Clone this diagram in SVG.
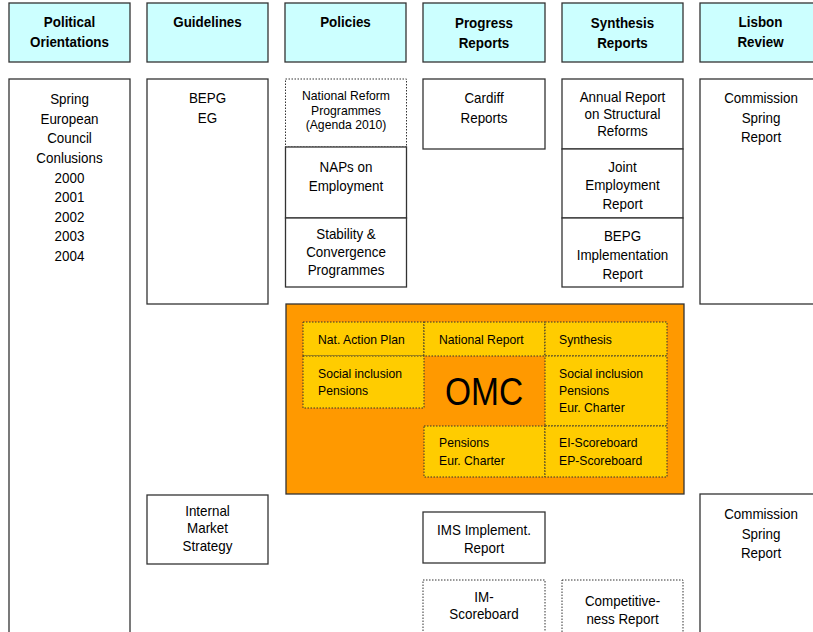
<svg xmlns="http://www.w3.org/2000/svg" width="813" height="632" viewBox="0 0 813 632">
<style>
text{font-family:"Liberation Sans",Arial,sans-serif;fill:#000;}
.h{fill:#CCFFFF;stroke:#333;stroke-width:1.3;}
.b{fill:#fff;stroke:#333;stroke-width:1.3;}
.d{fill:#fff;stroke:#333;stroke-width:1;stroke-dasharray:1.5 1.5;}
.c{fill:#FFCC00;stroke:#333;stroke-width:1;stroke-dasharray:1.5 1.5;}
.ht{font-size:13.4px;font-weight:bold;text-anchor:middle;}
.t{font-size:13.4px;text-anchor:middle;}
.s{font-size:12.2px;text-anchor:middle;}
.o{font-size:12.2px;}
</style>
<rect width="813" height="632" fill="#fff"/>
<g id="headers">
<g id="h-political"><rect class="h" x="9" y="3" width="121" height="59"/><text class="ht" transform="translate(69.5,27) scale(1,1.15)">Political</text><text class="ht" transform="translate(69.5,47) scale(1,1.15)">Orientations</text></g>
<g id="h-guidelines"><rect class="h" x="147" y="3" width="121" height="59"/><text class="ht" transform="translate(207.5,27) scale(1,1.15)">Guidelines</text></g>
<g id="h-policies"><rect class="h" x="285" y="3" width="121" height="59"/><text class="ht" transform="translate(345.5,27) scale(1,1.15)">Policies</text></g>
<g id="h-progress"><rect class="h" x="423" y="3" width="122" height="59"/><text class="ht" transform="translate(484,28) scale(1,1.15)">Progress</text><text class="ht" transform="translate(484,48) scale(1,1.15)">Reports</text></g>
<g id="h-synthesis"><rect class="h" x="562" y="3" width="121" height="59"/><text class="ht" transform="translate(622.5,28) scale(1,1.15)">Synthesis</text><text class="ht" transform="translate(622.5,48) scale(1,1.15)">Reports</text></g>
<g id="h-lisbon"><rect class="h" x="700" y="3" width="121" height="59"/><text class="ht" transform="translate(760.5,27) scale(1,1.15)">Lisbon</text><text class="ht" transform="translate(760.5,47) scale(1,1.15)">Review</text></g>
</g>
<g id="n-spring-council"><rect class="b" x="9" y="79" width="121" height="570"/>
<text class="t" transform="translate(69.5,104) scale(1,1.15)">Spring</text>
<text class="t" transform="translate(69.5,123.5) scale(1,1.15)">European</text>
<text class="t" transform="translate(69.5,143) scale(1,1.15)">Council</text>
<text class="t" transform="translate(69.5,162.5) scale(1,1.15)">Conlusions</text>
<text class="t" transform="translate(69.5,182.5) scale(1,1.15)">2000</text>
<text class="t" transform="translate(69.5,202) scale(1,1.15)">2001</text>
<text class="t" transform="translate(69.5,221.5) scale(1,1.15)">2002</text>
<text class="t" transform="translate(69.5,241) scale(1,1.15)">2003</text>
<text class="t" transform="translate(69.5,260.5) scale(1,1.15)">2004</text></g>
<g id="n-bepg-eg"><rect class="b" x="147" y="79" width="121" height="225"/><text class="t" transform="translate(207.5,103) scale(1,1.15)">BEPG</text><text class="t" transform="translate(207.5,123) scale(1,1.15)">EG</text></g>
<g id="n-nrp"><rect class="d" x="285.5" y="79" width="121" height="68"/><text class="s" x="346" y="100">National Reform</text><text class="s" x="346" y="114.5">Programmes</text><text class="s" x="346" y="128.5">(Agenda 2010)</text></g>
<g id="n-naps"><rect class="b" x="285.5" y="147" width="121" height="71"/><text class="t" transform="translate(346,172) scale(1,1.15)">NAPs on</text><text class="t" transform="translate(346,191) scale(1,1.15)">Employment</text></g>
<g id="n-stability"><rect class="b" x="285.5" y="218" width="121" height="69"/><text class="t" transform="translate(346,239) scale(1,1.15)">Stability &amp;</text><text class="t" transform="translate(346,257) scale(1,1.15)">Convergence</text><text class="t" transform="translate(346,274.5) scale(1,1.15)">Programmes</text></g>
<g id="n-cardiff"><rect class="b" x="423" y="79" width="122" height="70"/><text class="t" transform="translate(484,103) scale(1,1.15)">Cardiff</text><text class="t" transform="translate(484,122.5) scale(1,1.15)">Reports</text></g>
<g id="n-annual"><rect class="b" x="562" y="79" width="121" height="70"/><text class="t" transform="translate(622.5,101.5) scale(1,1.15)">Annual Report</text><text class="t" transform="translate(622.5,118.5) scale(1,1.15)">on Structural</text><text class="t" transform="translate(622.5,135.5) scale(1,1.15)">Reforms</text></g>
<g id="n-jer"><rect class="b" x="562" y="149" width="121" height="69"/><text class="t" transform="translate(622.5,171.5) scale(1,1.15)">Joint</text><text class="t" transform="translate(622.5,190) scale(1,1.15)">Employment</text><text class="t" transform="translate(622.5,209) scale(1,1.15)">Report</text></g>
<g id="n-bepg-impl"><rect class="b" x="562" y="218" width="121" height="69"/><text class="t" transform="translate(622.5,241) scale(1,1.15)">BEPG</text><text class="t" transform="translate(622.5,260) scale(1,1.15)">Implementation</text><text class="t" transform="translate(622.5,278.5) scale(1,1.15)">Report</text></g>
<g id="n-commission1"><rect class="b" x="700" y="79" width="121" height="225"/><text class="t" transform="translate(761,102.5) scale(1,1.15)">Commission</text><text class="t" transform="translate(761,122.5) scale(1,1.15)">Spring</text><text class="t" transform="translate(761,142) scale(1,1.15)">Report</text></g>
<g id="n-omc">
<rect x="286" y="304" width="398" height="190" fill="#FF9900" stroke="#333" stroke-width="1.3"/>
<rect class="c" x="303" y="322" width="121" height="34"/><text class="o" transform="translate(318,344) scale(1,1.1)">Nat. Action Plan</text>
<rect class="c" x="424" y="322" width="121" height="34"/><text class="o" transform="translate(439,344) scale(1,1.1)">National Report</text>
<rect class="c" x="545" y="322" width="122" height="34"/><text class="o" transform="translate(559,344) scale(1,1.1)">Synthesis</text>
<rect class="c" x="303" y="356" width="121" height="52"/><text class="o" transform="translate(318,377.5) scale(1,1.1)">Social inclusion</text><text class="o" transform="translate(318,395) scale(1,1.1)">Pensions</text>
<rect class="c" x="545" y="356" width="122" height="70"/><text class="o" transform="translate(559,377.5) scale(1,1.1)">Social inclusion</text><text class="o" transform="translate(559,395) scale(1,1.1)">Pensions</text><text class="o" transform="translate(559,412) scale(1,1.1)">Eur. Charter</text>
<rect class="c" x="424" y="426" width="121" height="51"/><text class="o" transform="translate(439,446.5) scale(1,1.1)">Pensions</text><text class="o" transform="translate(439,464.5) scale(1,1.1)">Eur. Charter</text>
<rect class="c" x="545" y="426" width="122" height="51"/><text class="o" transform="translate(559,446.5) scale(1,1.1)">EI-Scoreboard</text><text class="o" transform="translate(559,464.5) scale(1,1.1)">EP-Scoreboard</text>
<text font-size="33.5" text-anchor="middle" transform="translate(484,405) scale(1,1.15)">OMC</text>
</g>
<g id="n-ims"><rect class="b" x="147" y="495" width="121" height="69"/><text class="t" transform="translate(207.5,515.5) scale(1,1.15)">Internal</text><text class="t" transform="translate(207.5,533) scale(1,1.15)">Market</text><text class="t" transform="translate(207.5,550.5) scale(1,1.15)">Strategy</text></g>
<g id="n-ims-impl"><rect class="b" x="423" y="512" width="122" height="51"/><text class="t" transform="translate(484,534.5) scale(1,1.15)">IMS Implement.</text><text class="t" transform="translate(484,552.5) scale(1,1.15)">Report</text></g>
<g id="n-im-scoreboard"><rect class="d" x="423" y="580" width="122" height="70"/><text class="t" transform="translate(484,601.5) scale(1,1.15)">IM-</text><text class="t" transform="translate(484,618.5) scale(1,1.15)">Scoreboard</text></g>
<g id="n-competitiveness"><rect class="d" x="562" y="580" width="121" height="70"/><text class="t" transform="translate(622.5,605.5) scale(1,1.15)">Competitive-</text><text class="t" transform="translate(622.5,623.5) scale(1,1.15)">ness Report</text></g>
<g id="n-commission2"><rect class="b" x="700" y="494" width="121" height="160"/><text class="t" transform="translate(761,518.5) scale(1,1.15)">Commission</text><text class="t" transform="translate(761,538.5) scale(1,1.15)">Spring</text><text class="t" transform="translate(761,558) scale(1,1.15)">Report</text></g>
</svg>
